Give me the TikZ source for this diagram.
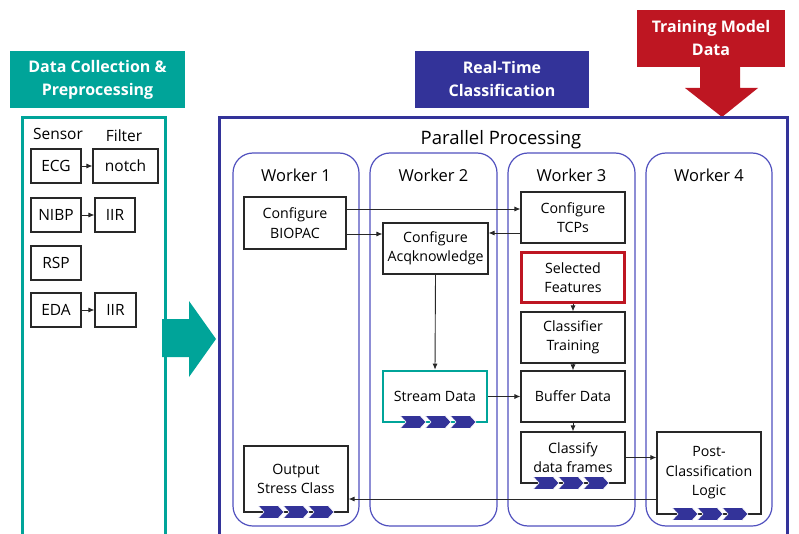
\documentclass[tikz,border=0pt]{standalone}
\usepackage{fontspec}
\setmainfont{Open Sans}
\usetikzlibrary{arrows.meta}
\definecolor{teal1}{RGB}{0,164,153}
\definecolor{blue1}{RGB}{51,51,153}
\definecolor{wblue}{RGB}{80,80,190}
\definecolor{red1}{RGB}{190,22,34}
\definecolor{gline}{RGB}{40,40,40}
\tikzset{
  box/.style={draw=gline, line width=1.1pt, fill=white, align=center, inner sep=0pt,
    font=\fontsize{14.2}{19.5}\selectfont},
  sbox/.style={box, minimum height=34pt, font=\fontsize{15.5}{19}\selectfont},
  arr/.style={draw=gline, line width=0.9pt, -{Latex[length=6pt,width=5pt]}},
  worker/.style={draw=wblue, line width=1.2pt, rounded corners=20pt},
  wlabel/.style={font=\fontsize{16.5}{20}\selectfont},
  header/.style={align=center, text=white, font=\fontsize{16}{23}\selectfont\bfseries},
  chev/.pic={\foreach \i in {0,1,2}{
    \fill[blue1, draw=white, line width=0.6pt] (\i*25,-6.5) -- ++(20,0) -- ++(6,6.5) -- ++(-6,6.5) -- ++(-20,0) -- ++(6,-6.5) -- cycle;}}
}
\begin{document}
\begin{tikzpicture}[x=1pt,y=-1pt]
\useasboundingbox (0,0) rectangle (799,534);
\clip (0,0) rectangle (799,534);

% headers
\fill[teal1] (10,51) rectangle (185,108);
\node[header] (hdc) at (97.5,79.5) {Data Collection \&\\Preprocessing};
\fill[blue1] (415,51) rectangle (589,108);
\node[header] (hrt) at (502,79.5) {Real-Time\\Classification};
\fill[red1] (637,10) rectangle (785,67);
\node[header] (htm) at (711,38.5) {Training Model\\Data};
\fill[red1] (700,66) -- (740,66) -- (740,88) -- (758,88) -- (722,117) -- (685,88) -- (700,88) -- cycle;

% left panel
\draw[teal1, line width=3pt] (22,118) rectangle (165,545);
\node[font=\fontsize{15.5}{18}\selectfont] (lsens) at (58,134) {Sensor};
\node[font=\fontsize{15.5}{18}\selectfont] (lfilt) at (124,136) {Filter};
\node[sbox, minimum width=50pt] (ecg) at (56,166) {ECG};
\node[sbox, minimum width=65pt] (notch) at (125.5,166) {notch};
\node[sbox, minimum width=50pt] (nibp) at (56,215) {NIBP};
\node[sbox, minimum width=40pt] (iir1) at (115,215) {IIR};
\node[sbox, minimum width=50pt] (rsp) at (56,263) {RSP};
\node[sbox, minimum width=50pt] (eda) at (56,310) {EDA};
\node[sbox, minimum width=41pt] (iir2) at (115.5,310) {IIR};
\draw[arr] (ecg) -- (notch);
\draw[arr] (nibp) -- (iir1);
\draw[arr] (eda) -- (iir2);

% teal arrow
\fill[teal1] (162,319) -- (189,319) -- (189,301) -- (216,339) -- (189,377) -- (189,357) -- (162,357) -- cycle;

% main panel
\draw[blue1, line width=3pt] (219,118) rectangle (787,545);
\node[font=\fontsize{18.5}{22}\selectfont] (pp) at (501,140) {Parallel Processing};

% workers
\draw[worker] (233,153) rectangle (359,526);
\draw[worker] (370,153) rectangle (497,526);
\draw[worker] (508,153) rectangle (635,526);
\draw[worker] (646,153) rectangle (772,526);
\node[wlabel] (w1) at (296,175) {Worker 1};
\node[wlabel] (w2) at (433.5,175) {Worker 2};
\node[wlabel] (w3) at (571.5,175) {Worker 3};
\node[wlabel] (w4) at (709,175) {Worker 4};

% nodes
\node[box, minimum width=102pt, minimum height=52pt] (bio) at (295,223) {Configure\\BIOPAC};
\node[box, minimum width=105pt, minimum height=51pt] (acq) at (435.5,248.5) {Configure\\Acqknowledge};
\node[box, minimum width=104pt, minimum height=51pt] (tcp) at (573,217.5) {Configure\\TCPs};
\node[box, draw=red1, line width=2.6pt, minimum width=103pt, minimum height=50pt] (sel) at (573,277.5) {Selected\\Features};
\node[box, minimum width=104pt, minimum height=51pt] (cls) at (573,337.5) {Classifier\\Training};
\node[box, minimum width=104pt, minimum height=51pt] (buf) at (573,396.5) {Buffer Data};
\node[box, minimum width=104pt, minimum height=51pt] (clf) at (573,457.5) {Classify\\data frames};
\node[box, minimum width=104pt, minimum height=82pt] (post) at (709,473) {Post-\\Classification\\Logic};
\node[box, draw=teal1, line width=2.6pt, minimum width=104pt, minimum height=51pt] (str) at (435,396.5) {Stream Data};
\node[box, minimum width=104pt, minimum height=66pt] (out) at (296,479) {Output\\Stress Class};

% chevrons
\pic at (400,422) {chev};
\pic at (258,512) {chev};
\pic at (533,483) {chev};
\pic at (672,514) {chev};

% connectors
\draw[arr] ([yshift=14pt]bio.east) -- ([yshift=14pt]bio.east -| tcp.west);
\draw[arr] ([yshift=-11pt]bio.east) -- ([yshift=-11pt]bio.east -| acq.west);
\draw[arr] ([yshift=-15.5pt]tcp.west) -- ([yshift=-15.5pt]tcp.west -| acq.east);
\draw[arr] (acq.south) -- (str.north);
\draw[arr] (str.east) -- (str.east -| buf.west);
\draw[arr] (sel.south) -- (cls.north);
\draw[arr] (cls.south) -- (buf.north);
\draw[arr] (buf.south) -- (clf.north);
\draw[arr] (clf.east) -- (clf.east -| post.west);
\draw[arr] ([yshift=-26pt]post.west) -- ([yshift=-26pt]post.west -| out.east);
\end{tikzpicture}
\end{document}
